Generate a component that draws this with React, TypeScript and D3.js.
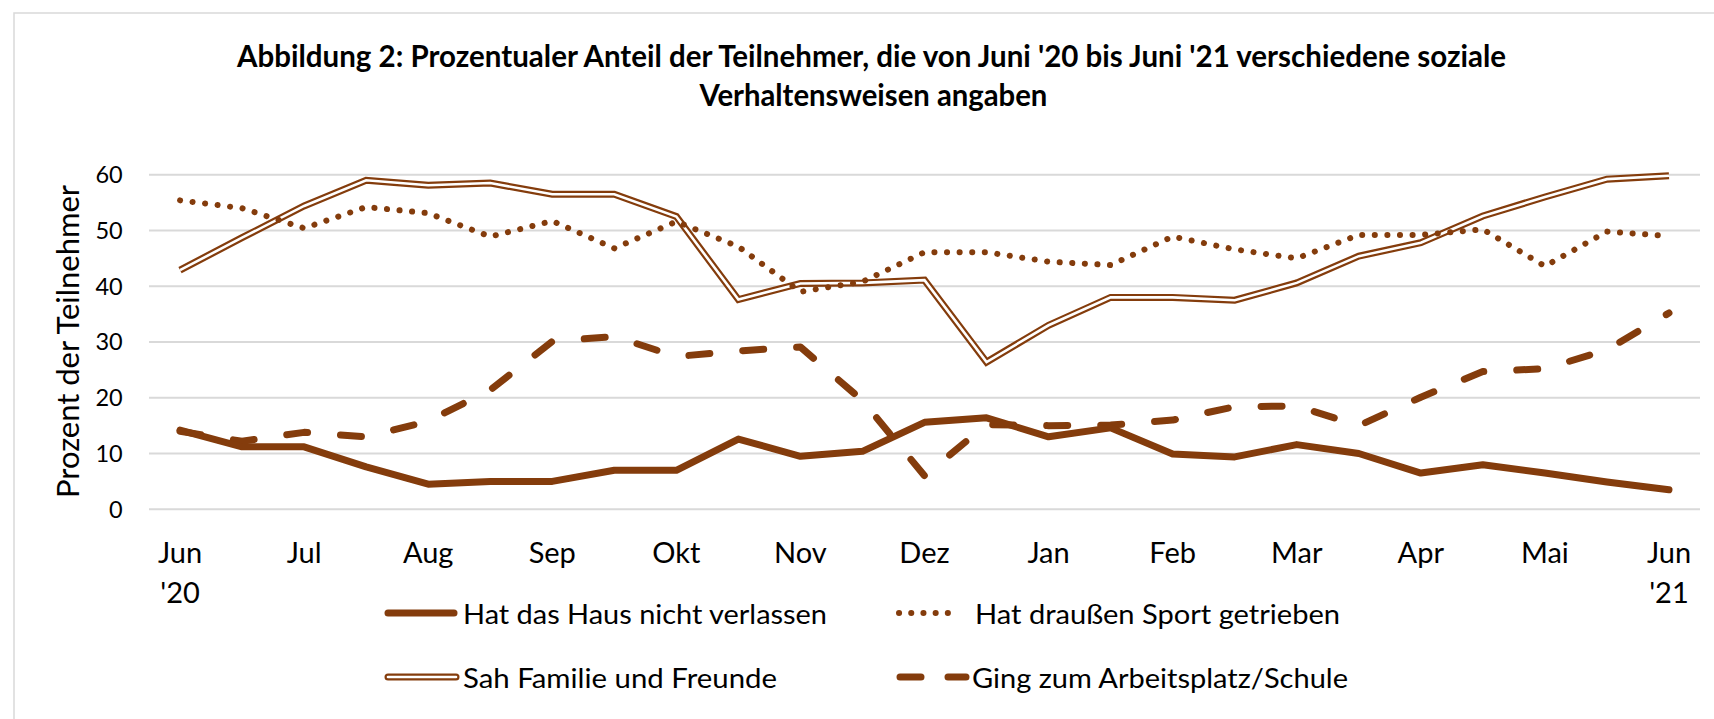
import React from "react";
import * as d3 from "d3";

const months = ["Jun", "", "Jul", "", "Aug", "", "Sep", "", "Okt", "", "Nov", "", "Dez", "", "Jan", "", "Feb", "", "Mar", "", "Apr", "", "Mai", "", "Jun"];
const monthSub = ["'20", "", "", "", "", "", "", "", "", "", "", "", "", "", "", "", "", "", "", "", "", "", "", "", "'21"];

const hausNichtVerlassen = [14.2, 11.2, 11.2, 7.6, 4.5, 5.0, 5.0, 7.0, 7.0, 12.6, 9.5, 10.4, 15.6, 16.4, 13.0, 14.6, 9.9, 9.4, 11.6, 10.0, 6.5, 8.0, 6.5, 4.9, 3.5];
const sportDraussen = [55.4, 54.0, 50.4, 54.2, 53.1, 48.9, 51.7, 46.8, 51.6, 47.1, 39.0, 40.8, 46.1, 46.1, 44.4, 43.8, 48.9, 46.6, 45.0, 49.2, 49.2, 50.2, 43.6, 49.8, 49.0];
const familieFreunde = [42.9, 48.7, 54.4, 59.0, 58.1, 58.5, 56.5, 56.5, 52.5, 37.6, 40.5, 40.6, 41.1, 26.4, 33.0, 38.0, 38.0, 37.5, 40.6, 45.4, 47.8, 52.6, 56.0, 59.2, 59.8];
const arbeitsplatzSchule = [14.0, 12.2, 13.8, 13.0, 15.8, 21.4, 30.1, 31.0, 27.4, 28.4, 29.1, 19.5, 6.0, 15.2, 15.0, 15.1, 16.0, 18.4, 18.5, 15.0, 20.1, 24.7, 25.2, 28.6, 35.2];
const yTicks = [0, 10, 20, 30, 40, 50, 60];

const seriesNames = [
  "Hat das Haus nicht verlassen",
  "Hat draußen Sport getrieben",
  "Sah Familie und Freunde",
  "Ging zum Arbeitsplatz/Schule",
];

const BROWN = "#843C0C";
const FONT = "Lato, 'Open Sans', sans-serif";

export default function App() {
  const W = 1714;
  const H = 719;
  const x = d3.scalePoint<number>().domain(d3.range(months.length)).range([149, 1700]).padding(0.5);
  const y = d3.scaleLinear().domain([0, 60]).range([509.3, 174.7]);
  const line = d3
    .line<number>()
    .x((_, i) => x(i) as number)
    .y((d) => y(d));

  return (
    <svg width={W} height={H} style={{ display: "block", position: "absolute", left: 0, top: 0 }}>
      <rect x={0} y={0} width={W} height={H} fill="#fff" />
      <rect x={14} y={13} width={W + 20} height={H + 20} fill="none" stroke="#d9d9d9" strokeWidth={1.5} />

      <text x={871.5} y={66.7} fontFamily={FONT} fontWeight="bold" fontSize={30} textAnchor="middle" textLength={1269} lengthAdjust="spacingAndGlyphs" fill="#000">
        Abbildung  2: Prozentualer Anteil der Teilnehmer, die von Juni '20 bis Juni '21 verschiedene soziale
      </text>
      <text x={873.4} y={106} fontFamily={FONT} fontWeight="bold" fontSize={30} textAnchor="middle" textLength={348} lengthAdjust="spacingAndGlyphs" fill="#000">
        Verhaltensweisen angaben
      </text>

      {yTicks.map((t) => (
        <g key={t}>
          <line x1={149} x2={1700} y1={y(t)} y2={y(t)} stroke="#d9d9d9" strokeWidth={2} />
          <text x={122.7} y={y(t) + 8.3} fontFamily={FONT} fontSize={23.5} textAnchor="end" fill="#000">
            {t}
          </text>
        </g>
      ))}

      <text
        transform={`translate(79,341.5) rotate(-90)`}
        fontFamily={FONT}
        fontSize={30}
        textAnchor="middle"
        textLength={313}
        lengthAdjust="spacingAndGlyphs"
        fill="#000"
      >
        Prozent der Teilnehmer
      </text>

      {months.map((m, i) =>
        m ? (
          <g key={i}>
            <text x={x(i)} y={562.7} fontFamily={FONT} fontSize={29} textAnchor="middle" fill="#000">
              {m}
            </text>
            {monthSub[i] ? (
              <text x={x(i)} y={602.7} fontFamily={FONT} fontSize={29} textAnchor="middle" fill="#000">
                {monthSub[i]}
              </text>
            ) : null}
          </g>
        ) : null
      )}

      {/* Sah Familie und Freunde - double line */}
      <path d={line(familieFreunde) || ""} fill="none" stroke={BROWN} strokeWidth={7} strokeLinejoin="miter" />
      <path d={line(familieFreunde) || ""} fill="none" stroke="#fff" strokeWidth={2.6} strokeLinejoin="miter" />

      {/* Sport - dotted */}
      <path d={line(sportDraussen) || ""} fill="none" stroke={BROWN} strokeWidth={6} strokeDasharray="0.1 12.5" strokeLinecap="round" />

      {/* Arbeitsplatz - dashed */}
      <path d={line(arbeitsplatzSchule) || ""} fill="none" stroke={BROWN} strokeWidth={7} strokeDasharray="21 33" strokeLinecap="round" strokeLinejoin="round" />

      {/* Haus nicht verlassen - solid */}
      <path d={line(hausNichtVerlassen) || ""} fill="none" stroke={BROWN} strokeWidth={7} strokeLinecap="round" strokeLinejoin="round" />

      {/* Legend */}
      <g>
        <line x1={388} x2={454} y1={613} y2={613} stroke={BROWN} strokeWidth={7} strokeLinecap="round" />
        <text x={463} y={624} fontFamily={FONT} fontSize={26} textLength={364} lengthAdjust="spacingAndGlyphs" fill="#000">
          {seriesNames[0]}
        </text>

        <line x1={899} x2={960} y1={613} y2={613} stroke={BROWN} strokeWidth={6} strokeDasharray="0.1 12.1" strokeLinecap="round" />
        <text x={975} y={624} fontFamily={FONT} fontSize={26} textLength={365} lengthAdjust="spacingAndGlyphs" fill="#000">
          {seriesNames[1]}
        </text>

        <line x1={388} x2={456} y1={677} y2={677} stroke={BROWN} strokeWidth={7} strokeLinecap="round" />
        <line x1={388} x2={456} y1={677} y2={677} stroke="#fff" strokeWidth={2.6} strokeLinecap="round" />
        <text x={463} y={688} fontFamily={FONT} fontSize={26} textLength={314} lengthAdjust="spacingAndGlyphs" fill="#000">
          {seriesNames[2]}
        </text>

        <line x1={900} x2={966} y1={677} y2={677} stroke={BROWN} strokeWidth={7} strokeDasharray="21 27" strokeLinecap="round" />
        <text x={972} y={688} fontFamily={FONT} fontSize={26} textLength={376} lengthAdjust="spacingAndGlyphs" fill="#000">
          {seriesNames[3]}
        </text>
      </g>
    </svg>
  );
}
